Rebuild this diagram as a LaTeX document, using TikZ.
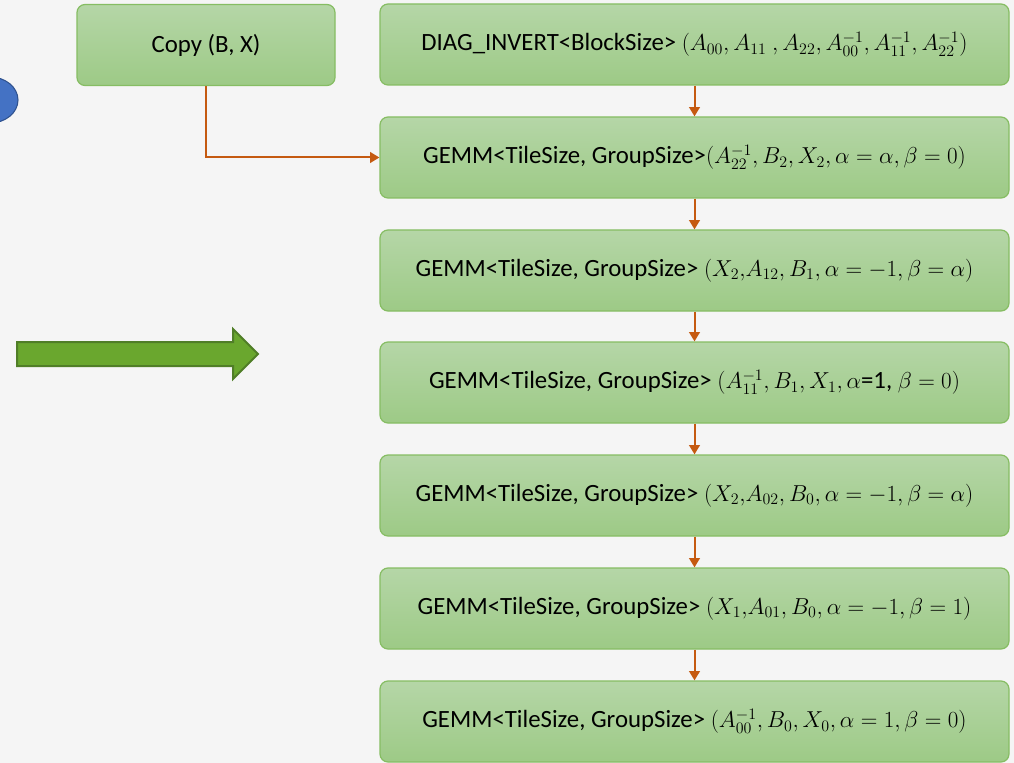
\documentclass[tikz,border=0pt]{standalone}
\usepackage{fontspec}
\setmainfont{Carlito}
\usetikzlibrary{arrows.meta}
\definecolor{bgcol}{HTML}{F5F5F5}
\definecolor{boxtop}{HTML}{B5D6A7}
\definecolor{boxbot}{HTML}{9DCA86}
\definecolor{boxline}{HTML}{86BD63}
\definecolor{flow}{HTML}{C55A11}
\definecolor{bigarrow}{HTML}{6AA72E}
\definecolor{bigarrowline}{HTML}{507E27}
\definecolor{blobfill}{HTML}{4472C4}
\definecolor{blobline}{HTML}{2F528F}
\tikzset{
  stepbox/.style={draw=boxline, line width=0.9pt, rounded corners=6pt,
    top color=boxtop, bottom color=boxbot,
    minimum height=60.75pt, inner sep=0pt, align=center,
    font=\fontsize{18.6}{22}\selectfont, text=black},
  wide/.style={minimum width=471.75pt},
  flowline/.style={draw=flow, line width=1.5pt,
    -{Triangle[width=8pt,length=7pt]}}
}
\begin{document}
\begin{tikzpicture}[x=0.75pt,y=-0.75pt]
  % page background and fixed frame
  \fill[bgcol] (0,0) rectangle (1014,763);
  \useasboundingbox (0,0) rectangle (1014,763);

  % blue blob cut by the left edge
  \begin{scope}
    \clip (0,0) rectangle (1014,763);
    \draw[blobline, fill=blobfill, line width=0.8pt] (-10,100) ellipse [x radius=28, y radius=23];
  \end{scope}

  % broad green arrow
  \draw[bigarrowline, fill=bigarrow, line width=1.5pt, line join=miter]
    (17,342) -- (233,342) -- (233,329) -- (258,354) -- (233,379) -- (233,366) -- (17,366) -- cycle;

  % copy step
  \node[stepbox, minimum width=193.5pt] (copy) at (206,45) {Copy (B, X)};

  % chain of kernels
  \node[stepbox, wide] (inv) at (694.5,44.5)
    {DIAG\_INVERT<BlockSize> $(A_{00}, A_{11}\ , A_{22}, A_{00}^{-1}, A_{11}^{-1}, A_{22}^{-1})$};
  \node[stepbox, wide] (g1) at (694.5,157.5)
    {GEMM<TileSize, GroupSize>$(A_{22}^{-1}, B_2, X_2, \alpha=\alpha, \beta=0)$};
  \node[stepbox, wide] (g2) at (694.5,270.5)
    {GEMM<TileSize, GroupSize> $(X_2{,}A_{12}, B_1, \alpha=-1, \beta=\alpha)$};
  \node[stepbox, wide] (g3) at (694.5,382.5)
    {GEMM<TileSize, GroupSize> $(A_{11}^{-1}, B_1, X_1, \alpha$=1, $\beta=0)$};
  \node[stepbox, wide] (g4) at (694.5,495.5)
    {GEMM<TileSize, GroupSize> $(X_2{,}A_{02}, B_0, \alpha=-1, \beta=\alpha)$};
  \node[stepbox, wide] (g5) at (694.5,608.5)
    {GEMM<TileSize, GroupSize> $(X_1{,}A_{01}, B_0, \alpha=-1, \beta=1)$};
  \node[stepbox, wide] (g6) at (694.5,721.5)
    {GEMM<TileSize, GroupSize> $(A_{00}^{-1}, B_0, X_0, \alpha=1, \beta=0)$};

  % connectors
  \draw[flowline] (copy.south) |- (g1.west);
  \draw[flowline] (inv) -- (g1);
  \draw[flowline] (g1) -- (g2);
  \draw[flowline] (g2) -- (g3);
  \draw[flowline] (g3) -- (g4);
  \draw[flowline] (g4) -- (g5);
  \draw[flowline] (g5) -- (g6);
\end{tikzpicture}
\end{document}
